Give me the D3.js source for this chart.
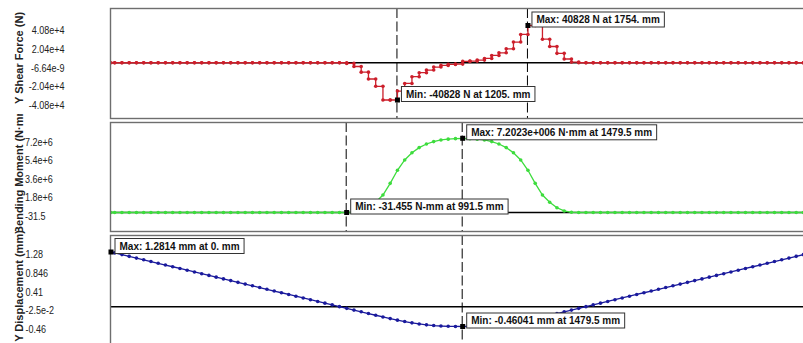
<!DOCTYPE html>
<html><head><meta charset="utf-8">
<script src="https://cdn.jsdelivr.net/npm/d3@7"></script>
<style>body{margin:0;background:#fff}svg{display:block}</style>
</head><body><svg id="c" width="803" height="343"></svg>
<script>
// Stations along the beam (mm)
const stationsMM = [0, 15.5, 46, 76.5, 107, 137.5, 168, 198.5, 229, 259.5, 290, 320.5, 351, 381.5, 412, 442.5, 473, 503.5, 534, 564.5,
  595, 625.5, 656, 686.5, 717, 747.5, 778, 808.5, 839, 869.5, 900, 930.5, 961, 991.5, 1022, 1052.5, 1083, 1113.5, 1144, 1174.5,
  1205, 1235.5, 1266, 1296.5, 1327, 1357.5, 1388, 1418.5, 1449, 1479.5, 1510, 1540.5, 1571, 1601.5, 1632, 1662.5, 1693, 1723.5,
  1754, 1784.5, 1815, 1845.5, 1876, 1906.5, 1937, 1967.5, 1998, 2028.5, 2059, 2089.5, 2120, 2150.5, 2181, 2211.5, 2242, 2272.5,
  2303, 2333.5, 2364, 2394.5, 2425, 2455.5, 2486, 2516.5, 2547, 2577.5, 2608, 2638.5, 2669, 2699.5, 2730, 2760.5, 2791, 2821.5,
  2852, 2882.5, 2913, 2943.5, 2959];

// Shear force (N) on each interval [station i, station i+1]
const shearN = [0,0,0,0,0,0,0,0,0,0, 0,0,0,0,0,0,0,0,0,0, 0,0,0,0,0,0,0,0,0,0, 0,0,0,
  -700, -4100, -10300, -17800, -25800, -40828, -40828,
  -31000, -22700, -15300, -10900, -8000, -4700, -2900, -1800, -1500,
  1500, 1800, 2900, 4700, 8000, 10900, 15300, 22700, 31000,
  40828, 40828, 25800, 17800, 10300, 4100, 700,
  0,0,0,0,0,0,0,0,0,0, 0,0,0,0,0,0,0,0,0,0, 0,0,0,0,0,0,0,0,0,0, 0,0,0];

// Bending moment (N·mm) at stations
const momentNmm = [0,0,0,0,0,0,0,0,0,0, 0,0,0,0,0,0,0,0,0,0, 0,0,0,0,0,0,0,0,0,0, 0,0,0,
  -31.455, 20000, 150000, 460000, 1000000, 1700000, 2830000, 4100000, 5100000, 5800000, 6300000, 6650000, 6880000,
  7040000, 7120000, 7170000, 7202300, 7170000, 7120000, 7040000, 6880000, 6650000, 6300000, 5800000, 5100000,
  4100000, 2830000, 1700000, 1000000, 460000, 150000, 20000,
  0,0,0,0,0,0,0,0,0,0, 0,0,0,0,0,0,0,0,0,0, 0,0,0,0,0,0,0,0,0,0, 0,0,0,0];

// Y displacement (mm) at stations
const dispMM = [1.2814, 1.2608, 1.2203, 1.1797, 1.1392, 1.0987, 1.0581, 1.0176, 0.9771, 0.9365, 0.8960, 0.8555, 0.8149,
  0.7744, 0.7339, 0.6933, 0.6528, 0.6123, 0.5717, 0.5312, 0.4907, 0.4501, 0.4096, 0.3691, 0.3285, 0.2880, 0.2475,
  0.2069, 0.1664, 0.1258, 0.0853, 0.0448, 0.0042, -0.0363, -0.0765, -0.1171, -0.1575, -0.1975, -0.2370, -0.2752,
  -0.3115, -0.3450, -0.3750, -0.4010, -0.4220, -0.4380, -0.4490, -0.4560, -0.4594, -0.46041,
  -0.4594, -0.4560, -0.4490, -0.4380, -0.4220, -0.4010, -0.3750, -0.3450, -0.3115, -0.2752, -0.2370, -0.1975,
  -0.1575, -0.1171, -0.0765, -0.0363, 0.0042, 0.0448, 0.0853, 0.1258, 0.1664, 0.2069, 0.2475, 0.2880, 0.3285,
  0.3691, 0.4096, 0.4501, 0.4907, 0.5312, 0.5717, 0.6123, 0.6528, 0.6933, 0.7339, 0.7744, 0.8149, 0.8555, 0.8960,
  0.9365, 0.9771, 1.0176, 1.0581, 1.0987, 1.1392, 1.1797, 1.2203, 1.2608, 1.2814];

const shearTickLabels = ["4.08e+4", "2.04e+4", "-6.64e-9", "-2.04e+4", "-4.08e+4"];
const shearTickValues = [40800, 20400, 0, -20400, -40800];
const momentTickLabels = ["7.2e+6", "5.4e+6", "3.6e+6", "1.8e+6", "-31.5"];
const momentTickValues = [7200000, 5400000, 3600000, 1800000, -31.5];
const dispTickLabels = ["1.28", "0.846", "0.41", "-2.5e-2", "-0.46"];
const dispTickValues = [1.28, 0.846, 0.41, -0.025, -0.46];

const titles = ["Y Shear Force (N)", "Bending Moment (N\u00b7mm)", "Y Displacement (mm)"];
const minLabels = ["Min: -40828 N at 1205. mm", "Min: -31.455 N-mm at 991.5 mm", "Min: -0.46041 mm at 1479.5 mm"];
const maxLabels = ["Max: 40828 N at 1754. mm", "Max: 7.2023e+006 N\u00b7mm at 1479.5 mm", "Max: 1.2814 mm at 0. mm"];
const minAt = [1205, 991.5, 1479.5];
const maxAt = [1754, 1479.5, 0];
const minVal = [-40828, -31.455, -0.46041];
const maxVal = [40828, 7202300, 1.2814];

const svg = d3.select("#c");
svg.append("rect").attr("width", 803).attr("height", 343).attr("fill", "#fff");
const FONT = "'Liberation Sans', Arial, sans-serif";

const x = d3.scaleLinear().domain([0, 2959]).range([111, 814.4]);

const panels = [
  {top: 8, bottom: 118, yRange: [100, 25.5], ticks: shearTickValues, tickLabels: shearTickLabels, tickAnchor: "end", tickX: 64.5, tickDy: 5,
   color: "#cc1f2b", kind: "step", values: shearN, titleY: 58, band: [0, 114], dashes: [minAt[0], maxAt[0]]},
  {top: 122, bottom: 231, yRange: [212.5, 138.3], ticks: momentTickValues, tickLabels: momentTickLabels, tickAnchor: "start", tickX: 25, tickDy: 3.5,
   color: "#3ddc3d", kind: "line", values: momentNmm, titleY: 168.5, band: [114, 231], dashes: [minAt[1], maxAt[1]]},
  {top: 235, bottom: 350, yRange: [326.5, 252], ticks: dispTickValues, tickLabels: dispTickLabels, tickAnchor: "start", tickX: 25.5, tickDy: 2.5,
   color: "#1a1a9c", kind: "line", values: dispMM, titleY: 286, band: [230, 343], dashes: [maxAt[2], minAt[2]]}
];
const domains = [[minVal[0], maxVal[0]], [0, maxVal[1]], [minVal[2], maxVal[2]]];

const defs = svg.append("defs");

panels.forEach((p, pi) => {
  const y = d3.scaleLinear().domain(domains[pi]).range(p.yRange);
  const g = svg.append("g");

  defs.append("clipPath").attr("id", "pc" + pi).append("rect")
    .attr("x", 110).attr("y", p.top).attr("width", 720).attr("height", p.bottom - p.top);
  defs.append("clipPath").attr("id", "tc" + pi).append("rect")
    .attr("x", 0).attr("y", p.band[0]).attr("width", 40).attr("height", p.band[1] - p.band[0]);

  // title (clipped by an untransformed parent group)
  g.append("g").attr("clip-path", `url(#tc${pi})`)
    .append("text")
    .attr("transform", `translate(23,${p.titleY}) rotate(-90)`)
    .attr("text-anchor", "middle").attr("font-family", FONT).attr("font-weight", "bold")
    .attr("font-size", 11).attr("fill", "#222").text(titles[pi]);

  // tick labels
  g.selectAll("text.tick").data(p.ticks).enter().append("text").attr("class", "tick")
    .attr("transform", d => `translate(${p.tickX},${y(d) + p.tickDy}) scale(0.86,1)`)
    .attr("dominant-baseline", "central").attr("text-anchor", p.tickAnchor)
    .attr("font-family", FONT).attr("font-size", 10.5).attr("fill", "#222")
    .text((d, i) => p.tickLabels[i]);

  const plot = g.append("g").attr("clip-path", `url(#pc${pi})`);

  plot.append("line").attr("x1", 110).attr("x2", 830).attr("y1", y(0)).attr("y2", y(0))
    .attr("stroke", "#000").attr("stroke-width", 1.6);

  plot.selectAll("line.dash").data(p.dashes).enter().append("line").attr("class", "dash")
    .attr("x1", d => x(d) - 0.5).attr("x2", d => x(d) - 0.5).attr("y1", p.top).attr("y2", p.bottom)
    .attr("stroke", "#000").attr("stroke-width", 1).attr("stroke-dasharray", "10,3.5");

  let pts;
  if (p.kind === "step") {
    pts = [];
    p.values.forEach((v, i) => {
      pts.push([stationsMM[i], v]);
      pts.push([stationsMM[i + 1], v]);
    });
  } else {
    pts = stationsMM.map((s, i) => [s, p.values[i]]);
  }
  const line = d3.line().x(d => x(d[0])).y(d => y(d[1]));
  plot.append("path").attr("d", line(pts)).attr("fill", "none")
    .attr("stroke", p.color).attr("stroke-width", 1.3);
  plot.selectAll("circle").data(pts).enter().append("circle")
    .attr("cx", d => x(d[0])).attr("cy", d => y(d[1])).attr("r", 1.8).attr("fill", p.color);

  g.append("rect").attr("x", 110.5).attr("y", p.top + 0.5).attr("width", 720).attr("height", p.bottom - p.top)
    .attr("fill", "none").attr("stroke", "#6e6e6e").attr("stroke-width", 1.4);

  const notes = [[maxAt[pi], maxVal[pi], maxLabels[pi]], [minAt[pi], minVal[pi], minLabels[pi]]];
  notes.forEach(([mx, mv, label]) => {
    const px = x(mx), py = y(mv);
    const ag = g.append("g");
    const bx = Math.max(px + 3.5, 114);
    const rect = ag.append("rect").attr("fill", "#fff").attr("stroke", "#333").attr("stroke-width", 1);
    const t = ag.append("text").attr("x", bx + 5).attr("y", py - 2.5)
      .attr("font-family", FONT).attr("font-weight", "bold").attr("font-size", 10)
      .attr("fill", "#111").text(label);
    const w = t.node().getComputedTextLength();
    rect.attr("x", bx + 0.5).attr("y", py - 13.5).attr("width", w + 9).attr("height", 15);
    ag.append("rect").attr("x", px - 2.5).attr("y", py - 2.5).attr("width", 5).attr("height", 5).attr("fill", "#000");
  });
});
</script></body></html>
